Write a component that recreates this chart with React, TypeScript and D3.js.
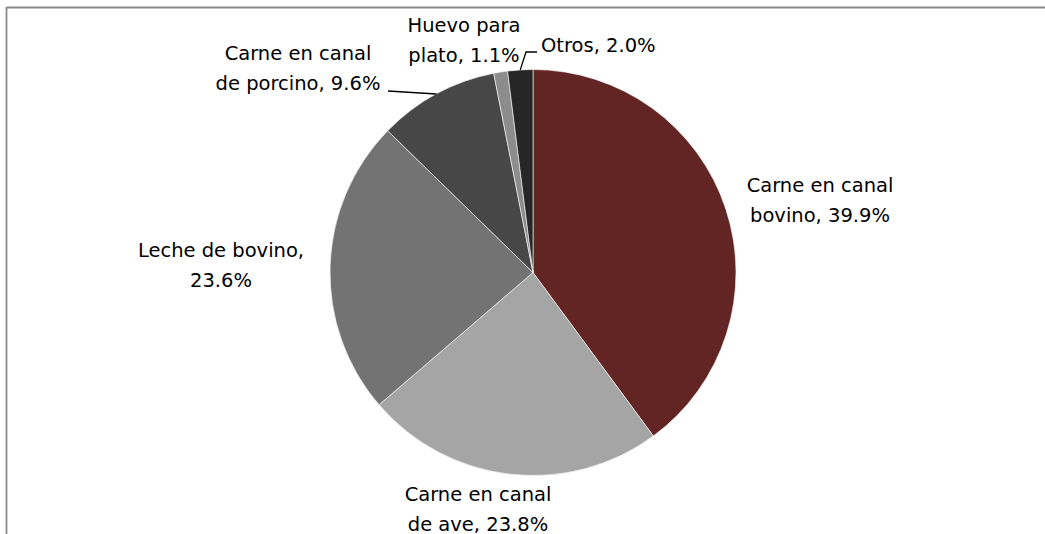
import React from "react";
import * as d3 from "d3";

const categories = [
  "Carne en canal bovino",
  "Carne en canal de ave",
  "Leche de bovino",
  "Carne en canal de porcino",
  "Huevo para plato",
  "Otros",
];
const values = [39.9, 23.8, 23.6, 9.6, 1.1, 2.0];
const colors = ["#632523", "#A5A5A5", "#737373", "#474747", "#8C8C8C", "#262626"];
const labelLines = [
  ["Carne en canal", "bovino, 39.9%"],
  ["Carne en canal", "de ave, 23.8%"],
  ["Leche de bovino,", "23.6%"],
  ["Carne en canal", "de porcino, 9.6%"],
  ["Huevo para", "plato, 1.1%"],
  ["Otros, 2.0%"],
];
const labelPos: [number, number, string][] = [
  [820, 192, "middle"],
  [478, 501, "middle"],
  [221, 257, "middle"],
  [298, 60, "middle"],
  [464, 32, "middle"],
  [541, 52, "start"],
];

export default function App() {
  const W = 1045, H = 534;
  const cx = 533, cy = 272.5, r = 203;
  const pie = d3.pie<number>().sort(null).value((d) => d);
  const arcs = pie(values);
  const arc = d3.arc<d3.PieArcDatum<number>>().innerRadius(0).outerRadius(r);
  const edge = (a: d3.PieArcDatum<number>) => {
    const m = (a.startAngle + a.endAngle) / 2;
    return [cx + r * Math.sin(m), cy - r * Math.cos(m)];
  };
  const pPorc = edge(arcs[3]);
  const pOtros = edge(arcs[5]);
  const font = "'DejaVu Sans', sans-serif";
  return (
    <div style={{ position: "fixed", left: 0, top: 0 }}>
      <svg width={W} height={H} style={{ display: "block", background: "#fff" }}>
        <line x1={6.5} y1={7.5} x2={W} y2={7.5} stroke="#898989" strokeWidth={1.8} />
        <line x1={6.5} y1={7} x2={6.5} y2={H} stroke="#898989" strokeWidth={1.8} />
        <g transform={`translate(${cx},${cy})`}>
          {arcs.map((a, i) => (
            <path key={categories[i]} d={arc(a) || ""} fill={colors[i]} stroke="#fff" strokeWidth={0.6} />
          ))}
        </g>
        <polyline
          points={`388,91 ${pPorc[0]},${pPorc[1]}`}
          fill="none" stroke="#000" strokeWidth={1.3}
        />
        <polyline
          points={`537,52 526,52 ${pOtros[0]},${pOtros[1]}`}
          fill="none" stroke="#000" strokeWidth={1.3}
        />
        {labelLines.map((lines, i) => (
          <text key={i} x={labelPos[i][0]} y={labelPos[i][1]} textAnchor={labelPos[i][2] as any}
            fontFamily={font} fontSize={19.5} fill="#000">
            {lines.map((l, j) => (
              <tspan key={j} x={labelPos[i][0]} dy={j === 0 ? 0 : 29.5}>{l}</tspan>
            ))}
          </text>
        ))}
      </svg>
    </div>
  );
}
